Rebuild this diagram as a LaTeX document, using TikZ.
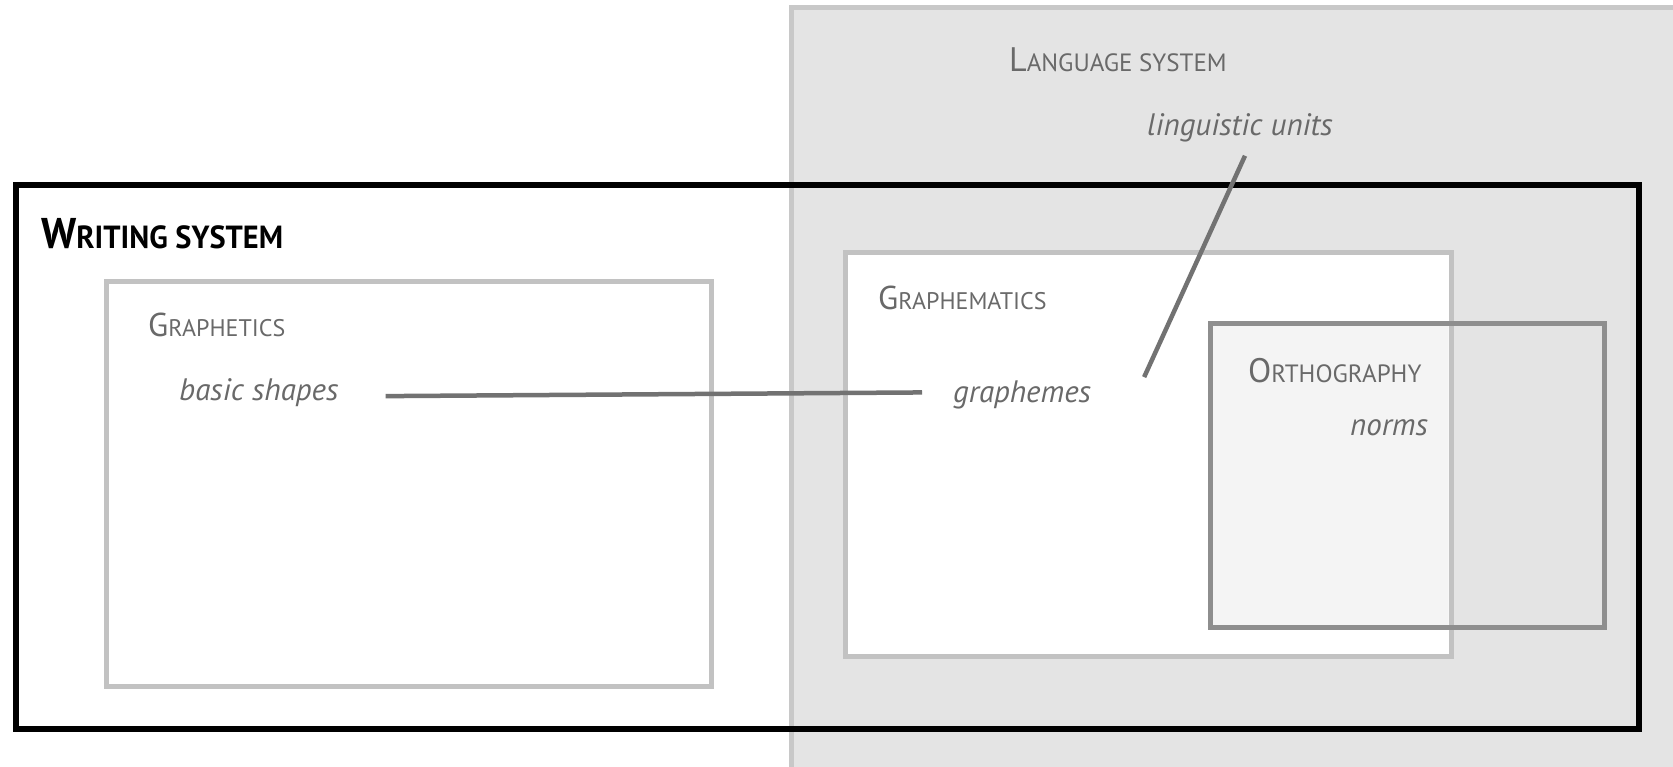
\documentclass[tikz,border=0pt]{standalone}
\usepackage{fontspec}
\setmainfont{PT Sans}
\definecolor{langfill}{HTML}{E4E4E4}
\definecolor{langedge}{HTML}{C8C8C8}
\definecolor{boxedge}{HTML}{C2C2C2}
\definecolor{orthedge}{HTML}{8E8E8E}
\definecolor{orthfill}{HTML}{F4F4F4}
\definecolor{labelgray}{HTML}{696969}
\definecolor{linkgray}{HTML}{727272}
% small caps: large initial, smaller capitals after it
\newcommand\capsword[4]{{\fontsize{#1}{#1}\selectfont #3}{\fontsize{#2}{#2}\selectfont #4}}
\begin{document}
\begin{tikzpicture}[x=1pt,y=-1pt,
  area/.style={inner sep=0pt,outer sep=0pt,anchor=north west},
  langbox/.style={area,draw=langedge,fill=langfill,line width=5pt},
  writebox/.style={area,draw=black,line width=6pt},
  subbox/.style={area,draw=boxedge,fill=white,line width=5pt},
  orthbox/.style={area,draw=orthedge,line width=5pt},
  title/.style={inner sep=0pt,anchor=base west,text=labelgray},
  term/.style={inner sep=0pt,anchor=base west,text=labelgray,font=\fontsize{31}{31}\selectfont\itshape},
  link/.style={draw=linkgray,line width=4.5pt}]
\useasboundingbox (0,0) rectangle (1673,767);
\clip (0,0) rectangle (1673,767);

% language system (runs off the right and bottom edges)
\node[langbox,minimum width=960pt,minimum height=820pt] (lsbox) at (791,8) {};
% writing system frame
\node[writebox,minimum width=1623pt,minimum height=544pt] (wsbox) at (16,185) {};
% graphetics and graphematics
\node[subbox,minimum width=605pt,minimum height=404pt] (gtbox) at (106,282) {};
\node[subbox,minimum width=606pt,minimum height=403pt] (gmbox) at (845,253) {};
% orthography: light tint only where it lies over graphematics
\begin{scope}
  \clip ([shift={(2.5,2.5)}]gmbox.north west) rectangle ([shift={(-2.5,-2.5)}]gmbox.south east);
  \fill[orthfill] (1210,323) rectangle (1604,627);
\end{scope}
\node[orthbox,minimum width=394pt,minimum height=304pt] (orbox) at (1210,323) {};

% labels
\node[title,text=black] (ws) at (41,249) {\scalebox{0.95}[1]{\bfseries\capsword{43}{32}{W}{RITING SYSTEM}}};
\node[title] (ls) at (1009,72) {\capsword{34}{25}{L}{ANGUAGE SYSTEM}};
\node[title] (gt) at (148,337) {\capsword{33}{24}{G}{RAPHETICS}};
\node[title] (gm) at (878,309) {\capsword{33}{24}{G}{RAPHEMATICS}};
\node[title] (or) at (1248,382) {\capsword{34}{25}{O}{RTHOGRAPHY}};

\node[term] (lu) at (1147,136) {linguistic units};
\node[term] (bs) at (179,400) {basic shapes};
\node[term] (gr) at (953,402) {graphemes};
\node[term] (nm) at (1350,435) {norms};

% connections between the units
\draw[link] ([xshift=47pt,yshift=-4pt]bs.east) -- ([xshift=-31pt,yshift=2pt]gr.west);
\draw[link] ([xshift=5pt,yshift=-13pt]lu.south) -- ([xshift=53pt,yshift=3pt]gr.north east);
\end{tikzpicture}
\end{document}
